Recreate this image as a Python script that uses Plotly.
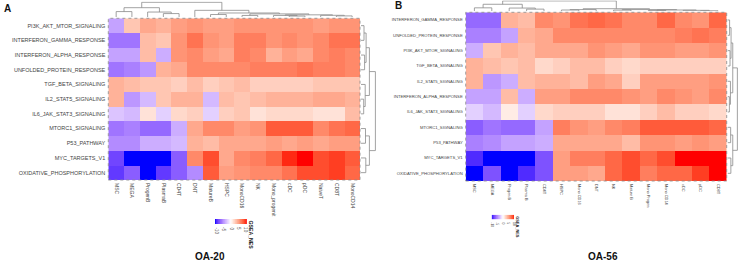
import plotly.graph_objects as go
import numpy as np

# ---------------- data ----------------
rows_A = ["PI3K_AKT_MTOR_SIGNALING", "INTERFERON_GAMMA_RESPONSE", "INTERFERON_ALPHA_RESPONSE",
          "UNFOLDED_PROTEIN_RESPONSE", "TGF_BETA_SIGNALING", "IL2_STAT5_SIGNALING",
          "IL6_JAK_STAT3_SIGNALING", "MTORC1_SIGNALING", "P53_PATHWAY", "MYC_TARGETS_V1",
          "OXIDATIVE_PHOSPHORYLATION"]
cols_A = ["MSC", "MEGA", "ProgenB", "PlasmaB", "CD4T", "DNT", "MatureB", "HSPC", "MonoCD16",
          "NK", "Mono_progenit", "cDC", "pDC", "NaiveT", "CD8T", "MonoCD14"]
nes_A = [
    [-4, 3, 4.5, 4, 5, 5.5, 5, 5, 5.5, 5.5, 5.5, 5.5, 5.5, 5, 5.5, 5.5],
    [-6, -6, 3.5, 3, 5.5, 7, 5.5, 5, 6.5, 6.5, 5.5, 6, 5.5, 6, 7, 7],
    [-4, -4, 3.5, -3.5, 5.5, 6, 5, 4.5, 6.5, 6, 4, 5, 4.5, 6, 6.5, 6],
    [-6, -5.5, -4.5, 4, 4.5, 6, 6, 6, 6, 6.5, 6.5, 6.5, 7, 6.5, 6.5, 6],
    [4, 3.5, 3, 3, 2.5, 3.5, 2.5, 3, 3.5, 2.5, 2.5, 2.5, 2.5, 3, 3, 3],
    [4, -4.5, -3, 3, 4, 4, -3, 3.5, 3, 3.5, 4, 4, 4, 4.5, 4.5, 4],
    [-2.5, -3, 1.5, -2, 2, 2.5, -2, 2.5, 3, 1.5, 2, 2, 2, 1.5, 1.5, 3.5],
    [-6, -5.5, -6.5, -6.5, -3.5, 4.5, 6, 6, 5, 5.5, 8, 8, 8, 6, 7, 7.5],
    [-5, -5, -3.5, -3.5, -3, 4, 3.5, 4.5, 4.5, 4.5, 5, 4.5, 5, 4.5, 5, 5],
    [-8, -10, -10, -10, -7, 6, 8.5, 4.5, 6, 6.5, 7.5, 9.5, 10, 8.5, 9, 8],
    [-8.5, -7, -10, -8.5, -7, -5, 8, 5, 5.5, 6, 6, 7, 8.5, 8.5, 9, 7.5],
]

rows_B = ["INTERFERON_GAMMA_RESPONSE", "UNFOLDED_PROTEIN_RESPONSE", "PI3K_AKT_MTOR_SIGNALING",
          "TGF_BETA_SIGNALING", "IL2_STAT5_SIGNALING", "INTERFERON_ALPHA_RESPONSE",
          "IL6_JAK_STAT3_SIGNALING", "MTORC1_SIGNALING", "P53_PATHWAY", "MYC_TARGETS_V1",
          "OXIDATIVE_PHOSPHORYLATION"]
cols_B = ["MSC", "MEGA", "Progen B", "Plasma B", "CD4T", "HSPC", "Mono CD16", "DNT", "NK",
          "Mature B", "Mono Progen", "Mono CD14", "cDC", "pDC", "CD8T"]
nes_B = [
    [-6.5, -6.5, 4, 3.5, 6, 5.5, 7, 7.5, 7, 6, 6, 7.5, 6, 5.5, 7.5],
    [-5.5, -5.5, -4, 4, 4.5, 6, 6, 6, 6, 6, 6, 6, 6.5, 7, 6.5],
    [-3.5, 3, 4, 3.5, 4.5, 4.5, 4.5, 5.5, 5, 4.5, 5.5, 5.5, 5, 5, 5.5],
    [4, 3.5, 3, 3.5, 2, 2.5, 3.5, 3.5, 2.5, 2, 2.5, 2.5, 2.5, 2.5, 2.5],
    [4, -4.5, -3.5, 3.5, 4, 4, 3.5, 5, 4.5, 2.5, 5, 5, 5, 5, 5.5],
    [-4, -4, 3.5, -3.5, 5, 5, 6, 6, 6, 5.5, 5, 6, 5.5, 5, 6],
    [-2, -3, 1, -2, 2, 2.5, 2.5, 2.5, 1.5, 1.5, 2.5, 3.5, 2.5, 2.5, 2],
    [-7, -6, -6.5, -6.5, -4, 6.5, 5.5, 5, 6, 6.5, 8, 8, 8, 8, 7.5],
    [-5.5, -5, -4, -4, -3.5, 4.5, 4.5, 4.5, 4.5, 3.5, 5.5, 5.5, 5, 5.5, 5],
    [-9, -10, -10, -10, -7.5, 5, 6.5, 6.5, 7.5, 8.5, 7.5, 8.5, 10, 10, 10],
    [-10, -7.5, -10, -9, -7.5, 5, 5, 4.5, 7.5, 8.5, 6.5, 7.5, 7.5, 9, 10],
]

# dendrograms: (left, right, merge height); ints are leaf indices
tree_A_cols = (((0, 1, 3.5), (2, (3, 4, 2.2), 3.2), 6.0),
               (5, ((6, 7, 1.6), ((8, 9, 1.0), ((10, (11, 12, 0.6), 1.0),
                                                  (13, (14, 15, 0.7), 1.1), 1.4), 2.0), 2.6), 4.3),
               9.5)
tree_A_rows = ((((0, 1, 2.0), (2, 3, 2.4), 3.4), (4, (5, 6, 1.8), 2.8), 5.6),
               ((7, 8, 3.0), (9, 10, 3.2), 5.6), 9.6)
tree_B_cols = (((0, 1, 3.2), (2, (3, 4, 2.0), 3.0), 6.5),
               (((5, 6, 1.2), 7, 1.6), ((8, 9, 1.1), ((10, 11, 0.8), (12, (13, 14, 0.5), 0.9), 1.2), 1.6), 2.4),
               9.6)
tree_B_rows = ((((0, 1, 2.0), (2, 3, 2.4), 3.4), (4, (5, 6, 1.8), 2.8), 5.0),
               ((7, 8, 3.0), (9, 10, 3.2), 5.0), 9.4)

legend_ticks = [-10, -5, 0, 5, 10]
legend_title = "GSEA_NES"
titles = ["OA-20", "OA-56"]
panel_letters = ["A", "B"]

# ---------------- colour scale (blue-white-red, LAB interpolation) ----------------
def _lin(c):
    return c / 12.92 if c <= 0.04045 else ((c + 0.055) / 1.055) ** 2.4

def _gam(c):
    c = min(max(c, 0.0), 1.0)
    return 12.92 * c if c <= 0.0031308 else 1.055 * c ** (1 / 2.4) - 0.055

def rgb2lab(rgb):
    r, g, b = [_lin(v / 255) for v in rgb]
    X = (0.4124 * r + 0.3576 * g + 0.1805 * b) / 0.95047
    Y = (0.2126 * r + 0.7152 * g + 0.0722 * b)
    Z = (0.0193 * r + 0.1192 * g + 0.9505 * b) / 1.08883
    f = lambda t: t ** (1 / 3) if t > 0.008856 else 7.787 * t + 16 / 116
    fx, fy, fz = f(X), f(Y), f(Z)
    return 116 * fy - 16, 500 * (fx - fy), 200 * (fy - fz)

def lab2rgb(lab):
    L, a, b = lab
    fy = (L + 16) / 116
    fx = fy + a / 500
    fz = fy - b / 200
    finv = lambda t: t ** 3 if t ** 3 > 0.008856 else (t - 16 / 116) / 7.787
    X, Y, Z = finv(fx) * 0.95047, finv(fy), finv(fz) * 1.08883
    r = 3.2406 * X - 1.5372 * Y - 0.4986 * Z
    g = -0.9689 * X + 1.8758 * Y + 0.0415 * Z
    bb = 0.0557 * X - 0.2040 * Y + 1.0570 * Z
    return tuple(int(round(_gam(v) * 255)) for v in (r, g, bb))

lab_blue, lab_white, lab_red = rgb2lab((0, 0, 255)), rgb2lab((255, 255, 255)), rgb2lab((255, 0, 0))
colorscale = []
for t in np.linspace(0, 1, 41):
    v = -10 + 20 * t
    if v < 0:
        f = (v + 10) / 10
        lab = [lab_blue[i] + (lab_white[i] - lab_blue[i]) * f for i in range(3)]
    else:
        f = v / 10
        lab = [lab_white[i] + (lab_red[i] - lab_white[i]) * f for i in range(3)]
    r, g, b = lab2rgb(lab)
    colorscale.append([float(t), f"rgb({r},{g},{b})"])

# ---------------- helpers ----------------
W, H = 739, 263
def px_x(p):
    return p / W
def px_y(p):
    return 1 - p / H

def axn(i):
    return "" if i == 1 else str(i)

def dendro_segments(tree, orient):
    xs, ys = [], []
    def rec(node):
        if isinstance(node, int):
            return float(node), 0.0
        l, r, h = node
        pl, hl = rec(l)
        pr, hr = rec(r)
        seg_p = [pl, pl, pr, pr]
        seg_h = [hl, h, h, hr]
        if orient == "col":
            xs.extend(seg_p + [None]); ys.extend(seg_h + [None])
        else:
            xs.extend(seg_h + [None]); ys.extend(seg_p + [None])
        return (pl + pr) / 2, h
    rec(tree)
    return xs, ys

FONT = "Arial, Liberation Sans, sans-serif"
DCOL = "#8a8a8a"
fig = go.Figure()

panels = [
    dict(rows=rows_A, cols=cols_A, z=nes_A, tc=tree_A_cols, tr=tree_A_rows,
         hx=(108.3, 360.0), hy=(18.3, 180.0), cdy=(1.5, 17.0), rdx=(361.0, 376.0),
         rowfont=5.5, colfont=5.0,
         leg=(215.0, 247.0, 219.0, 224.0), legfont=4.6, legtitle_x=251.0, legtitle_font=5.2,
         title_x=210.0, letter_xy=(7.0, 8.0)),
    dict(rows=rows_B, cols=cols_B, z=nes_B, tc=tree_B_cols, tr=tree_B_rows,
         hx=(465.7, 726.7), hy=(12.3, 181.0), cdy=(0.5, 11.3), rdx=(727.5, 738.0),
         rowfont=4.2, colfont=3.9,
         leg=(491.7, 514.0, 214.7, 219.3), legfont=3.4, legtitle_x=517.5, legtitle_font=3.9,
         title_x=603.0, letter_xy=(398.0, 6.0)),
]

ax = 0
layout = {}
annotations = []
shapes = []
for pi, P in enumerate(panels):
    nr, nc = len(P["rows"]), len(P["cols"])
    # heatmap
    ax += 1; ah = axn(ax)
    fig.add_trace(go.Heatmap(z=P["z"], x=P["cols"], y=P["rows"], colorscale=colorscale,
                             zmin=-10, zmax=10, showscale=False,
                             xaxis=f"x{ah}", yaxis=f"y{ah}"))
    layout[f"xaxis{ah}"] = dict(domain=[px_x(P["hx"][0]), px_x(P["hx"][1])], anchor=f"y{ah}",
                                type="category", tickangle=90, ticks="", showgrid=False,
                                zeroline=False, tickmode="linear", tick0=0, dtick=1,
                                automargin=False,
                                tickfont=dict(size=P["colfont"], color="#444", family=FONT),
                                ticklabelstandoff=2)
    layout[f"yaxis{ah}"] = dict(domain=[px_y(P["hy"][1]), px_y(P["hy"][0])], anchor=f"x{ah}",
                                type="category", autorange="reversed", ticks="", showgrid=False,
                                zeroline=False, tickmode="linear", tick0=0, dtick=1,
                                automargin=False,
                                tickfont=dict(size=P["rowfont"], color="#444", family=FONT),
                                ticklabelstandoff=2)
    shapes.append(dict(type="rect", xref=f"x{ah} domain", yref=f"y{ah} domain",
                       x0=0, x1=1, y0=0, y1=1, line=dict(color="#888", width=0.8, dash="dot")))
    # column dendrogram
    ax += 1; ac = axn(ax)
    xs, ys = dendro_segments(P["tc"], "col")
    fig.add_trace(go.Scatter(x=xs, y=ys, mode="lines", line=dict(color=DCOL, width=0.8),
                             xaxis=f"x{ac}", yaxis=f"y{ac}", showlegend=False, hoverinfo="skip"))
    layout[f"xaxis{ac}"] = dict(domain=[px_x(P["hx"][0]), px_x(P["hx"][1])], anchor=f"y{ac}",
                                range=[-0.5, nc - 0.5], visible=False, automargin=False)
    layout[f"yaxis{ac}"] = dict(domain=[px_y(P["cdy"][1]), px_y(P["cdy"][0])], anchor=f"x{ac}",
                                range=[0, 10], visible=False, automargin=False)
    # row dendrogram
    ax += 1; ar = axn(ax)
    xs, ys = dendro_segments(P["tr"], "row")
    fig.add_trace(go.Scatter(x=xs, y=ys, mode="lines", line=dict(color=DCOL, width=0.8),
                             xaxis=f"x{ar}", yaxis=f"y{ar}", showlegend=False, hoverinfo="skip",
                             cliponaxis=False))
    layout[f"xaxis{ar}"] = dict(domain=[px_x(P["rdx"][0]), px_x(P["rdx"][1])], anchor=f"y{ar}",
                                range=[0, 10], visible=False, automargin=False)
    layout[f"yaxis{ar}"] = dict(domain=[px_y(P["hy"][1]), px_y(P["hy"][0])], anchor=f"x{ar}",
                                range=[nr - 0.5, -0.5], visible=False, automargin=False)
    # colour legend
    ax += 1; al = axn(ax)
    lx0, lx1, ly0, ly1 = P["leg"]
    grad = list(np.linspace(-10, 10, 81))
    fig.add_trace(go.Heatmap(z=[grad], x=grad, y=[0], colorscale=colorscale, zmin=-10, zmax=10,
                             showscale=False, xaxis=f"x{al}", yaxis=f"y{al}", hoverinfo="skip"))
    layout[f"xaxis{al}"] = dict(domain=[px_x(lx0), px_x(lx1)], anchor=f"y{al}",
                                range=[-10, 10], visible=False, automargin=False)
    layout[f"yaxis{al}"] = dict(domain=[px_y(ly1), px_y(ly0)], anchor=f"x{al}",
                                range=[-0.5, 0.5], visible=False, automargin=False)
    for tv in legend_ticks:
        annotations.append(dict(x=tv * 0.93, y=px_y(ly1 + 1), xref=f"x{al}", yref="paper",
                                text=str(tv), showarrow=False, textangle=90,
                                xanchor="center", yanchor="top",
                                font=dict(size=P["legfont"], color="#444", family=FONT)))
    annotations.append(dict(x=px_x(P["legtitle_x"]), y=px_y(ly0 - 1), xref="paper", yref="paper",
                            text=f"<b>{legend_title}</b>", showarrow=False, textangle=90,
                            xanchor="center", yanchor="top",
                            font=dict(size=P["legtitle_font"], color="#111", family=FONT)))
    # title and panel letter
    annotations.append(dict(x=px_x(P["title_x"]), y=0, xref="paper", yref="paper",
                            text=f"<b>{titles[pi]}</b>", showarrow=False,
                            xanchor="center", yanchor="bottom", yshift=-1,
                            font=dict(size=10, color="#111", family=FONT)))
    lx, ly = P["letter_xy"]
    annotations.append(dict(x=px_x(lx), y=px_y(ly), xref="paper", yref="paper",
                            text=f"<b>{panel_letters[pi]}</b>", showarrow=False,
                            xanchor="center", yanchor="middle",
                            font=dict(size=10, color="#111", family=FONT)))

fig.update_layout(width=W, height=H, margin=dict(l=0, r=0, t=0, b=0),
                  paper_bgcolor="white", plot_bgcolor="white", showlegend=False,
                  hovermode=False,
                  annotations=annotations, shapes=shapes, **layout)
fig.write_html("out.html", config={"displayModeBar": False, "staticPlot": True},
               post_script="document.body.style.margin='0px';")
